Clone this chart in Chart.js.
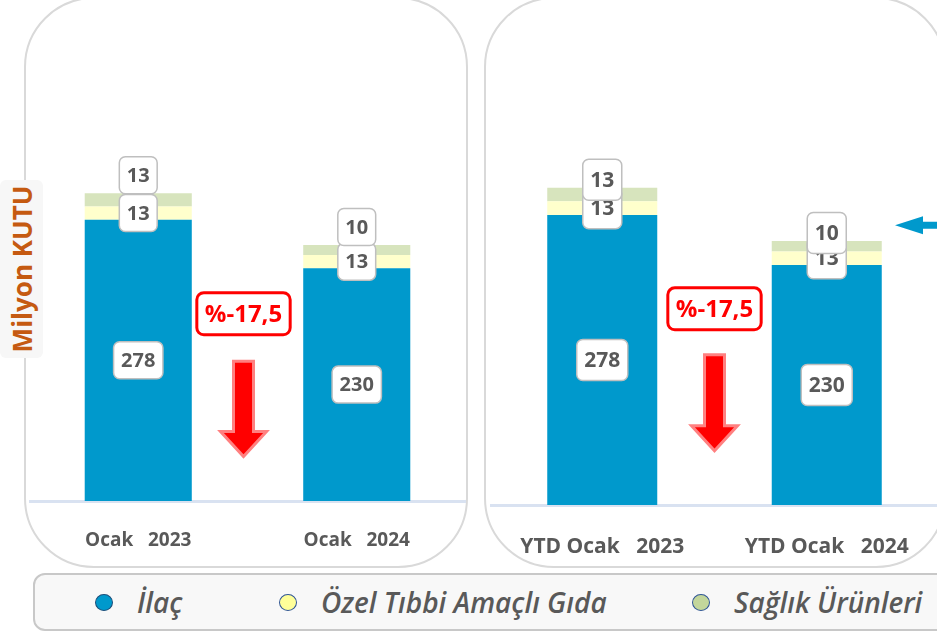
<!DOCTYPE html>
<html>
<head>
<meta charset="utf-8">
<script src="https://cdn.jsdelivr.net/npm/chart.js@4"></script>
<style>
  body { margin: 0; width: 937px; height: 635px; overflow: hidden; background: #fff; position: relative; font-family: "Open Sans", sans-serif; }
  .panel { position: absolute; top: -3px; height: 571px; border: 2px solid #d9d9d9; border-radius: 70px; box-sizing: border-box; }
  #panel1 { left: 24px; width: 444px; }
  #panel2 { left: 484px; width: 462px; }
  canvas { position: absolute; top: 0; }
  #c1 { left: 29px; }
  #c2 { left: 490px; }
  #ylabel { position: absolute; left: 0; top: 180px; width: 43px; height: 178px; background: #f7f7f7; border-radius: 6px; }
  #ylabel span { position: absolute; left: 50%; top: 50%; transform: translate(-50%, -50%) rotate(-90deg); white-space: nowrap; color: #c55a11; font-weight: 700; font-size: 26px; }
  #legend { position: absolute; left: 33px; top: 573px; width: 930px; height: 58px; border: 2px solid #c8c8c8; border-radius: 12px; background: #f8f8f8; box-sizing: border-box; }
  .item { position: absolute; top: 0; height: 54px; display: flex; align-items: center; }
  .dot { width: 18px; height: 17px; border-radius: 50%; border: 1.5px solid #2f5597; box-sizing: border-box; margin-right: 24px; }
  .item span { font-style: italic; font-weight: 600; font-size: 28px; color: #595959; }
</style>
</head>
<body>
<div class="panel" id="panel1"></div>
<div class="panel" id="panel2"></div>
<canvas id="c1" width="437" height="570"></canvas>
<canvas id="c2" width="449" height="570"></canvas>
<div id="ylabel"><span>Milyon KUTU</span></div>
<div id="legend"></div>
<script>
// data
const monthLabels = ['Ocak   2023', 'Ocak   2024'];
const ytdLabels = ['YTD Ocak   2023', 'YTD Ocak   2024'];
const seriesNames = ['İlaç', 'Özel Tıbbi Amaçlı Gıda', 'Sağlık Ürünleri'];
const ilacMonth = [278, 230];
const gidaMonth = [13, 13];
const saglikMonth = [13, 10];
const ilacYtd = [278, 230];
const gidaYtd = [13, 13];
const saglikYtd = [13, 10];
const changeMonth = '%-17,5';
const changeYtd = '%-17,5';

const colors = ['#0099cc', '#ffffcc', '#d7e4bd'];
const dotColors = ['#0099cc', '#ffff99', '#c3d69b'];
const legendLeft = [95, 279, 692];

// legend
let legend = document.getElementById('legend');
seriesNames.forEach((name, i) => {
    let item = document.createElement('div');
    item.className = 'item';
    item.style.left = (legendLeft[i] - 35) + 'px';
    let dot = document.createElement('div');
    dot.className = 'dot';
    dot.style.background = dotColors[i];
    if (i == 0) dot.style.borderColor = '#1f4e79';
    let txt = document.createElement('span');
    txt.textContent = name;
    item.appendChild(dot);
    item.appendChild(txt);
    legend.appendChild(item);
});

function roundBox(ctx, x, y, w, h, r) {
    ctx.beginPath();
    ctx.roundRect(x, y, w, h, r);
}

// value boxes on the bars
const valueBoxes = {
    id: 'valueBoxes',
    afterDatasetsDraw(chart, args, opts) {
        let ctx = chart.ctx;
        ctx.save();
        ctx.font = 'bold ' + opts.size + 'px "Open Sans"';
        ctx.textAlign = 'center';
        ctx.textBaseline = 'middle';
        chart.data.datasets.forEach((ds, i) => {
            chart.getDatasetMeta(i).data.forEach((bar, j) => {
                let text = String(ds.data[j]);
                let cy = i == 2 ? bar.y - opts.topOffset : (bar.y + bar.base) / 2;
                let w = ctx.measureText(text).width + 15;
                let h = opts.boxH;
                roundBox(ctx, bar.x - w / 2, cy - h / 2, w, h, 6);
                ctx.fillStyle = '#fff';
                ctx.fill();
                ctx.lineWidth = 1.5;
                ctx.strokeStyle = '#bfbfbf';
                ctx.stroke();
                ctx.fillStyle = '#595959';
                ctx.fillText(text, bar.x, cy + 1);
            });
        });
        ctx.restore();
    }
};

// change label and red arrow between the bars
const changeMark = {
    id: 'changeMark',
    afterDraw(chart, args, opts) {
        let ctx = chart.ctx;
        let x = chart.scales.x;
        let y = chart.scales.y;
        let cx = (x.getPixelForValue(0) + x.getPixelForValue(1)) / 2 + (opts.dx || 0);
        ctx.save();
        // label
        ctx.font = 'bold 24px "Open Sans"';
        ctx.textAlign = 'center';
        ctx.textBaseline = 'middle';
        let ly = y.getPixelForValue(opts.labelAt);
        let w = ctx.measureText(opts.text).width + 16;
        roundBox(ctx, cx - w / 2, ly - 21, w, 42, 7);
        ctx.fillStyle = '#fff';
        ctx.fill();
        ctx.lineWidth = 3;
        ctx.strokeStyle = '#ff0000';
        ctx.stroke();
        ctx.fillStyle = '#ff0000';
        ctx.fillText(opts.text, cx, ly + 1);
        // arrow
        let top = y.getPixelForValue(opts.arrowFrom);
        let tip = y.getPixelForValue(opts.arrowTo);
        let headY = tip - 25;
        ctx.beginPath();
        ctx.moveTo(cx - 10, top);
        ctx.lineTo(cx + 10, top);
        ctx.lineTo(cx + 10, headY);
        ctx.lineTo(cx + 23, headY);
        ctx.lineTo(cx, tip);
        ctx.lineTo(cx - 23, headY);
        ctx.lineTo(cx - 10, headY);
        ctx.closePath();
        ctx.fillStyle = '#ff0000';
        ctx.fill();
        ctx.lineWidth = 3;
        ctx.strokeStyle = '#ff8080';
        ctx.stroke();
        // blue pointer on the right
        if (opts.pointer) {
            let px = chart.chartArea.right - 44;
            let py = y.getPixelForValue(opts.pointer);
            ctx.beginPath();
            ctx.moveTo(px, py);
            ctx.lineTo(px + 28, py - 9);
            ctx.lineTo(px + 28, py - 3.5);
            ctx.lineTo(px + 60, py - 3.5);
            ctx.lineTo(px + 60, py + 3.5);
            ctx.lineTo(px + 28, py + 3.5);
            ctx.lineTo(px + 28, py + 9);
            ctx.closePath();
            ctx.fillStyle = '#0099cc';
            ctx.fill();
        }
        ctx.restore();
    }
};

function makeChart(id, labels, ilac, gida, saglik, opts) {
    return new Chart(document.getElementById(id), {
        type: 'bar',
        data: {
            labels: labels,
            datasets: [
                { label: seriesNames[0], data: ilac, backgroundColor: colors[0] },
                { label: seriesNames[1], data: gida, backgroundColor: colors[1] },
                { label: seriesNames[2], data: saglik, backgroundColor: colors[2] }
            ]
        },
        options: {
            responsive: false,
            animation: false,
            categoryPercentage: 1,
            barPercentage: 0.49,
            layout: { padding: 0 },
            scales: {
                x: {
                    stacked: true,
                    grid: { display: false },
                    border: { display: true, color: '#d9e2f1', width: 3 },
                    ticks: {
                        padding: opts.tickPad,
                        color: '#595959',
                        font: { family: 'Open Sans', weight: 'bold', size: opts.tickSize }
                    },
                    afterFit(scale) { scale.height = opts.axisH; }
                },
                y: { stacked: true, display: false, min: 0, max: opts.max }
            },
            plugins: {
                legend: { display: false },
                tooltip: { enabled: false },
                valueBoxes: { size: opts.boxFont, boxH: opts.boxH, topOffset: opts.topOffset },
                changeMark: opts.change
            }
        },
        plugins: [valueBoxes, changeMark]
    });
}

makeChart('c1', monthLabels, ilacMonth, gidaMonth, saglikMonth, {
    max: 495, axisH: 69, tickPad: 20, tickSize: 19, boxFont: 20, boxH: 37, topOffset: 18,
    change: { text: changeMonth, labelAt: 185, arrowFrom: 138, arrowTo: 44, dx: -4 }
});
makeChart('c2', ytdLabels, ilacYtd, gidaYtd, saglikYtd, {
    max: 484, axisH: 65, tickPad: 21, tickSize: 21, boxFont: 21, boxH: 41, topOffset: 8,
    change: { text: changeYtd, labelAt: 188, arrowFrom: 144, arrowTo: 52, pointer: 268 }
});
</script>
</body>
</html>
